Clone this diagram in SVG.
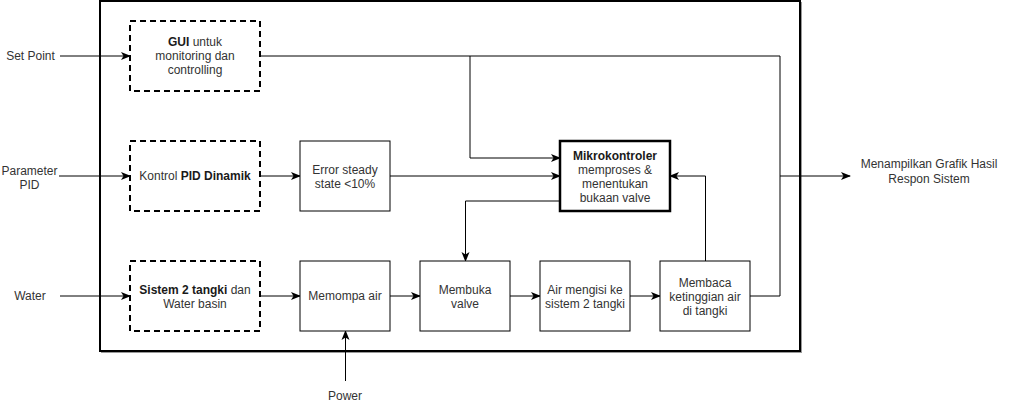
<svg xmlns="http://www.w3.org/2000/svg" width="1011" height="412" viewBox="0 0 1011 412">
<style>
text{font-family:"Liberation Sans",Arial,Helvetica,sans-serif;font-size:12px;fill:#333333;text-anchor:middle}
.b{font-weight:bold;fill:#1a1a1a}
.box{fill:#ffffff;stroke:#000000;stroke-width:1}
.dash{fill:#ffffff;stroke:#000000;stroke-width:2;stroke-dasharray:6 4}
.line{fill:none;stroke:#000000;stroke-width:1}
</style>
<defs>
<marker id="arr" viewBox="0 0 10 10" refX="9" refY="5" markerWidth="10" markerHeight="10" markerUnits="userSpaceOnUse" orient="auto">
<path d="M0,1 L10,5 L0,9 L2.5,5 Z" fill="#000000"/>
</marker>
</defs>
<rect x="101.5" y="2.5" width="700" height="350" fill="none" stroke="#999999" stroke-width="1"/>
<rect id="frame" x="100" y="1" width="700" height="350" fill="#ffffff" stroke="#000000" stroke-width="2"/>
<g id="connectors">
<path class="line" d="M60,56 L130,56" marker-end="url(#arr)"/>
<path class="line" d="M59,176 L130,176" marker-end="url(#arr)"/>
<path class="line" d="M60,296 L130,296" marker-end="url(#arr)"/>
<path class="line" d="M260,56 L470,56 L470,158 L560,158" marker-end="url(#arr)"/>
<path class="line" d="M470,56 L780,56 L780,296 L750,296"/>
<path class="line" d="M780,176 L850,176" marker-end="url(#arr)"/>
<path class="line" d="M260,176 L300,176" marker-end="url(#arr)"/>
<path class="line" d="M390,176 L560,176" marker-end="url(#arr)"/>
<path class="line" d="M560,201 L465.5,201 L465.5,261" marker-end="url(#arr)"/>
<path class="line" d="M705.5,261 L705.5,176 L670,176" marker-end="url(#arr)"/>
<path class="line" d="M260,296 L300,296" marker-end="url(#arr)"/>
<path class="line" d="M390,296 L420,296" marker-end="url(#arr)"/>
<path class="line" d="M510,296 L540,296" marker-end="url(#arr)"/>
<path class="line" d="M630,296 L660,296" marker-end="url(#arr)"/>
<path class="line" d="M345.5,381 L345.5,331" marker-end="url(#arr)"/>
</g>
<g id="gui">
<rect class="dash" x="130" y="21" width="130" height="70"/>
<text x="195" y="46"><tspan class="b">GUI</tspan> untuk</text>
<text x="195" y="60">monitoring dan</text>
<text x="195" y="74">controlling</text>
</g>
<g id="kontrol">
<rect class="dash" x="130" y="141" width="130" height="70"/>
<text x="195" y="180">Kontrol <tspan class="b">PID Dinamik</tspan></text>
</g>
<g id="sistem">
<rect class="dash" x="130" y="261" width="130" height="70"/>
<text x="195" y="294"><tspan class="b">Sistem 2 tangki</tspan> dan</text>
<text x="195" y="308">Water basin</text>
</g>
<g id="error">
<rect class="box" x="300" y="141" width="90" height="70"/>
<text x="345" y="174">Error steady</text>
<text x="345" y="188">state &lt;10%</text>
</g>
<g id="memompa">
<rect class="box" x="300" y="261" width="90" height="70"/>
<text x="345" y="300">Memompa air</text>
</g>
<g id="mikro">
<rect x="560" y="141" width="110" height="70" fill="#ffffff" stroke="#000000" stroke-width="2.5"/>
<text x="615" y="160" class="b">Mikrokontroler</text>
<text x="615" y="174">memproses &amp;</text>
<text x="615" y="188">menentukan</text>
<text x="615" y="202">bukaan valve</text>
</g>
<g id="membuka">
<rect class="box" x="420" y="261" width="90" height="70"/>
<text x="465" y="294">Membuka</text>
<text x="465" y="308">valve</text>
</g>
<g id="airmengisi">
<rect class="box" x="540" y="261" width="90" height="70"/>
<text x="585" y="294">Air mengisi ke</text>
<text x="585" y="308">sistem 2 tangki</text>
</g>
<g id="membaca">
<rect class="box" x="660" y="261" width="90" height="70"/>
<text x="705" y="287">Membaca</text>
<text x="705" y="301">ketinggian air</text>
<text x="705" y="315">di tangki</text>
</g>
<g id="labels">
<text x="30.5" y="60">Set Point</text>
<text x="29.5" y="175">Parameter</text>
<text x="29.5" y="189">PID</text>
<text x="30" y="300">Water</text>
<text x="345" y="400">Power</text>
<text x="929" y="168">Menampilkan Grafik Hasil</text>
<text x="929" y="183">Respon Sistem</text>
</g>
</svg>
